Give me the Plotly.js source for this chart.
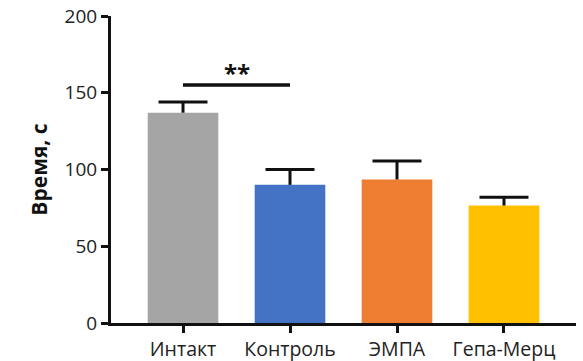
<!DOCTYPE html>
<html>
<head>
<meta charset="utf-8">
<script src="https://cdn.plot.ly/plotly-3.0.1.min.js"></script>
<style>html,body{margin:0;padding:0;background:#fff;}#chart{width:583px;height:361px;}</style>
</head>
<body>
<div id="chart"></div>
<script>
const categories = ['Интакт', 'Контроль', 'ЭМПА', 'Гепа-Мерц'];
const means = [137, 90, 93.5, 76.5];
const errors = [7, 10, 12, 5.5];
const barColors = ['#a5a5a5', '#4472c4', '#ed7d31', '#ffc000'];
const yTicks = [0, 50, 100, 150, 200];
const sigFrom = 0, sigTo = 1, sigLevel = 155, sigLabel = '**';

const font = 'Open Sans, sans-serif';
const bars = {
  type: 'bar',
  x: categories,
  y: means,
  width: 0.66,
  marker: {color: barColors, line: {width: 0}},
  error_y: {type: 'data', array: errors, symmetric: false, arrayminus: errors.map(() => 0),
            color: '#111', thickness: 3, width: 0},
  hoverinfo: 'none'
};
const caps = {
  type: 'scatter', mode: 'markers',
  x: categories,
  y: means.map((m, i) => m + errors[i]),
  marker: {symbol: 'line-ew-open', size: 35, color: '#111', line: {color: '#111', width: 3}},
  hoverinfo: 'none'
};
const layout = {
  width: 583, height: 361,
  margin: {l: 111, r: 7, t: 16, b: 38},
  paper_bgcolor: '#fff', plot_bgcolor: '#fff',
  showlegend: false,
  bargap: 0.34,
  xaxis: {
    type: 'category', range: [-0.673, 3.673],
    showline: true, linecolor: '#111', linewidth: 3,
    ticks: 'outside', ticklen: 7, tickwidth: 3, tickcolor: '#111',
    tickfont: {family: font, size: 19.5, color: '#222'},
    showgrid: false, zeroline: false, fixedrange: true
  },
  yaxis: {
    range: [0, 200], tickvals: yTicks, ticktext: yTicks.map(String),
    showline: true, linecolor: '#111', linewidth: 3,
    ticks: 'outside', ticklen: 7, tickwidth: 3, tickcolor: '#111',
    tickfont: {family: font, size: 19, color: '#222'},
    showgrid: false, zeroline: false, fixedrange: true,
    title: {text: 'Время, с', font: {family: font, size: 21, color: '#111', weight: 'bold'}, standoff: 12}
  },
  shapes: [{type: 'line', xref: 'x', yref: 'y', x0: sigFrom, x1: sigTo, y0: sigLevel, y1: sigLevel,
            line: {color: '#111', width: 3.5}}],
  annotations: [{xref: 'x', yref: 'y', x: (sigFrom + sigTo) / 2, y: sigLevel, yanchor: 'bottom', yshift: -6,
                 text: '<b>' + sigLabel + '</b>', showarrow: false,
                 font: {family: font, size: 24, color: '#111'}}]
};
Plotly.newPlot('chart', [bars, caps], layout, {staticPlot: true, displayModeBar: false});
</script>
</body>
</html>
